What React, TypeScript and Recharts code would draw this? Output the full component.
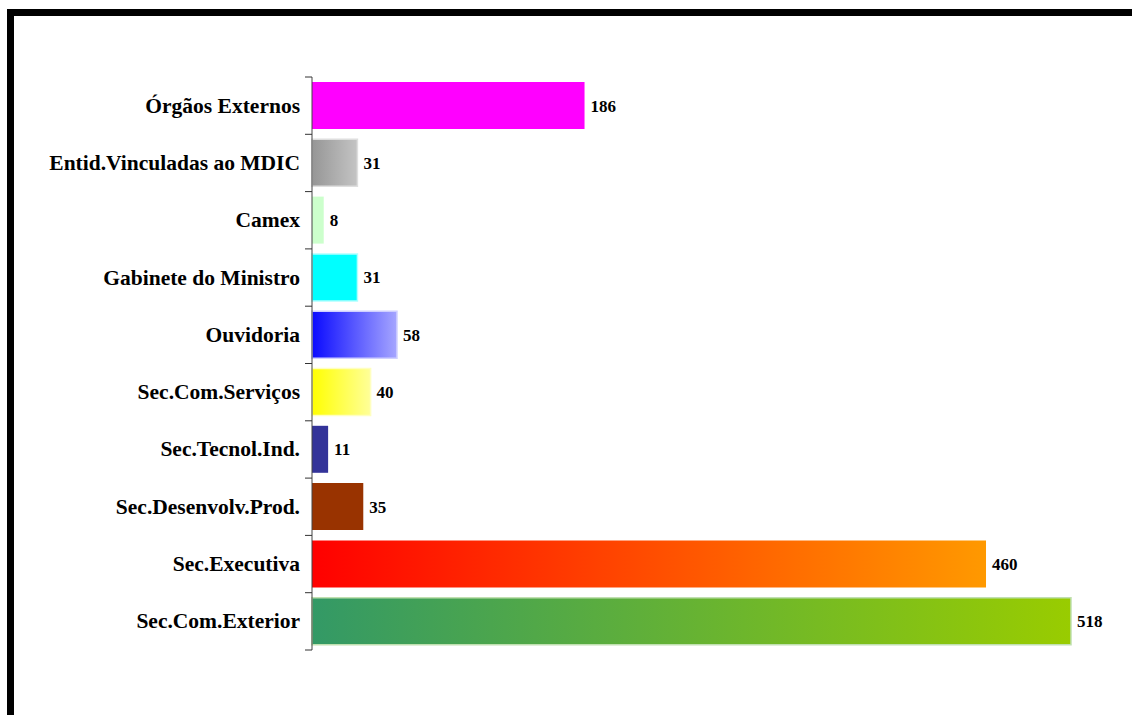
import { BarChart, Bar, XAxis, YAxis, Cell, LabelList } from "recharts";

const categories = [
  "Órgãos Externos",
  "Entid.Vinculadas ao MDIC",
  "Camex",
  "Gabinete do Ministro",
  "Ouvidoria",
  "Sec.Com.Serviços",
  "Sec.Tecnol.Ind.",
  "Sec.Desenvolv.Prod.",
  "Sec.Executiva",
  "Sec.Com.Exterior",
];
const values = [186, 31, 8, 31, 58, 40, 11, 35, 460, 518];
// [left colour, right colour, border]
const fills: [string, string, string][] = [
  ["#ff00ff", "#ff00ff", "none"],
  ["#969696", "#c4c4c4", "#dedede"],
  ["#ccffcc", "#ccffcc", "none"],
  ["#00ffff", "#00ffff", "#b0ffff"],
  ["#0a0aff", "#a6a6ff", "#d0d0ff"],
  ["#ffff00", "#ffff99", "#ffffc0"],
  ["#333399", "#333399", "none"],
  ["#993300", "#993300", "none"],
  ["#ff0000", "#ff9900", "none"],
  ["#339966", "#99cc00", "#c0e0b0"],
];

const W = 1132;
const H = 715;
const TOP = 77;
const BOTTOM = 65;
const plotH = H - TOP - BOTTOM;
const step = plotH / categories.length;
const serif = "'Liberation Serif', 'Times New Roman', serif";

const data = categories.map((name, i) => ({ name, value: values[i] }));

function CatTick(props: any) {
  const { x, y, payload, index } = props;
  return (
    <g>
      <line x1={x + 1} x2={x + 8} y1={y - step / 2} y2={y - step / 2} stroke="#333" />
      {index === categories.length - 1 && (
        <line x1={x + 1} x2={x + 8} y1={y + step / 2} y2={y + step / 2} stroke="#333" />
      )}
      <text
        x={x - 4}
        y={y}
        dy={7}
        textAnchor="end"
        fontFamily={serif}
        fontWeight="bold"
        fontSize={21.5}
        fill="#000"
      >
        {payload.value}
      </text>
    </g>
  );
}

export default function App() {
  return (
    <div style={{ position: "absolute", left: 0, top: 0, width: W, height: H, background: "#fff" }}>
      <div
        style={{
          position: "absolute",
          left: 7,
          top: 9,
          width: W - 7,
          height: H - 9,
          borderTop: "7px solid #000",
          borderLeft: "7px solid #000",
          boxSizing: "border-box",
        }}
      />
      <div style={{ position: "absolute", left: 0, top: 0 }}>
        <BarChart
          width={W}
          height={H}
          data={data}
          layout="vertical"
          margin={{ top: TOP, right: 61, bottom: BOTTOM, left: 0 }}
        >
          <defs>
            {fills.map((f, i) => (
              <linearGradient key={i} id={`g${i}`} x1="0" y1="0" x2="1" y2="0">
                <stop offset="0%" stopColor={f[0]} />
                <stop offset="100%" stopColor={f[1]} />
              </linearGradient>
            ))}
          </defs>
          <XAxis type="number" domain={[0, 518]} hide />
          <YAxis
            type="category"
            dataKey="name"
            width={312}
            axisLine={{ stroke: "#444" }}
            tickLine={false}
            tick={<CatTick />}
            interval={0}
          />
          <Bar dataKey="value" barSize={47} isAnimationActive={false}>
            {data.map((d, i) => (
              <Cell key={d.name} fill={`url(#g${i})`} stroke={fills[i][2]} strokeWidth={1.5} />
            ))}
            <LabelList
              dataKey="value"
              position="right"
              offset={6}
              fill="#000"
              fontFamily={serif}
              fontWeight="bold"
              fontSize={17}
            />
          </Bar>
        </BarChart>
      </div>
    </div>
  );
}
